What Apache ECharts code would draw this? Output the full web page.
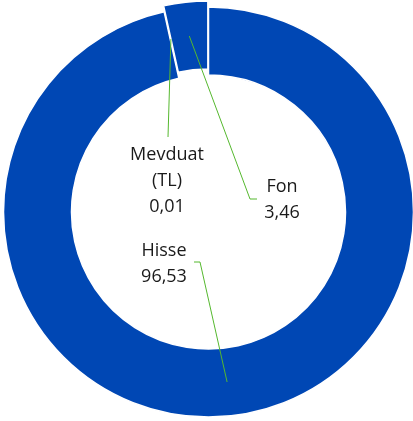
<!DOCTYPE html>
<html>
<head>
<meta charset="utf-8">
<script src="https://cdn.jsdelivr.net/npm/echarts@6/dist/echarts.min.js"></script>
<style>html,body{margin:0;padding:0;background:#fff;}#c{width:413px;height:421px;}</style>
</head>
<body>
<div id="c"></div>
<script>
var categories = ['Hisse', 'Mevduat\n(TL)', 'Fon'];
var values = [96.53, 0.01, 3.46];
var valueLabels = ['96,53', '0,01', '3,46'];
var exploded = [false, true, true];

// label placement relative to centre (px) and label-line bends
var labelPos = [[-44.5, 52], [-41.5, -31], [73.5, -12]];
var lineBend = [[[-8.5, 50], [-14.5, 50]], [[-40.5, -75], [-40.5, -75]], [[41.5, -13], [48.5, -13]]];

var chart = echarts.init(document.getElementById('c'), null, {renderer: 'canvas'});
var CX = 208.5, CY = 212, R0 = 137, R = 205, OFF = 6, START = 90;
var BLUE = '#0047B4';
var total = values.reduce(function (a, b) { return a + b; }, 0);

function midAngle(i) {
  var before = 0;
  for (var k = 0; k < i; k++) before += values[k];
  return (before + values[i] / 2) / total * 360 * Math.PI / 180; // clockwise from top
}
// explosion direction of the exploded group (mid-angle of Fon)
var explodeA = midAngle(2);
var ECX = CX + OFF * Math.sin(explodeA), ECY = CY - OFF * Math.cos(explodeA);

function anchor(i) {
  var a = midAngle(i);
  var r = (R0 + R) / 2;
  var cx = exploded[i] ? ECX : CX, cy = exploded[i] ? ECY : CY;
  return [cx + r * Math.sin(a), cy - r * Math.cos(a)];
}

function ringData(showExploded) {
  return categories.map(function (c, i) {
    var vis = exploded[i] === showExploded;
    return {
      name: c, value: values[i],
      itemStyle: vis ? {color: BLUE, borderColor: '#ffffff', borderWidth: 1.5}
                     : {color: 'rgba(0,0,0,0)', borderWidth: 0}
    };
  });
}

var base = {
  type: 'pie',
  radius: [R0, R],
  startAngle: START,
  clockwise: true,
  avoidLabelOverlap: false,
  silent: true,
  emphasis: {disabled: true},
  label: {show: false},
  labelLine: {show: false}
};

chart.setOption({
  animation: false,
  series: [
    Object.assign({}, base, {z: 1, center: [CX, CY], data: ringData(false)}),
    Object.assign({}, base, {z: 2, center: [ECX, ECY], data: ringData(true)}),
    Object.assign({}, base, {
      z: 3,
      center: [CX, CY],
      itemStyle: {color: 'rgba(0,0,0,0)', borderWidth: 0},
      label: {
        show: true,
        position: 'outside',
        fontFamily: 'Open Sans',
        fontSize: 18,
        lineHeight: 26,
        color: '#1a1a1a',
        align: 'center',
        formatter: function (p) { return p.name + '\n' + valueLabels[p.dataIndex]; }
      },
      labelLine: {show: true, lineStyle: {color: '#55b82e', width: 1}},
      labelLayout: function (p) {
        var i = p.dataIndex;
        var b = lineBend[i];
        return {
          x: CX + labelPos[i][0],
          y: CY + labelPos[i][1],
          align: 'center',
          verticalAlign: 'middle',
          hideOverlap: false,
          labelLinePoints: [anchor(i), [CX + b[0][0], CY + b[0][1]], [CX + b[1][0], CY + b[1][1]]]
        };
      },
      data: categories.map(function (c, i) { return {name: c, value: values[i]}; })
    })
  ]
});
</script>
</body>
</html>
